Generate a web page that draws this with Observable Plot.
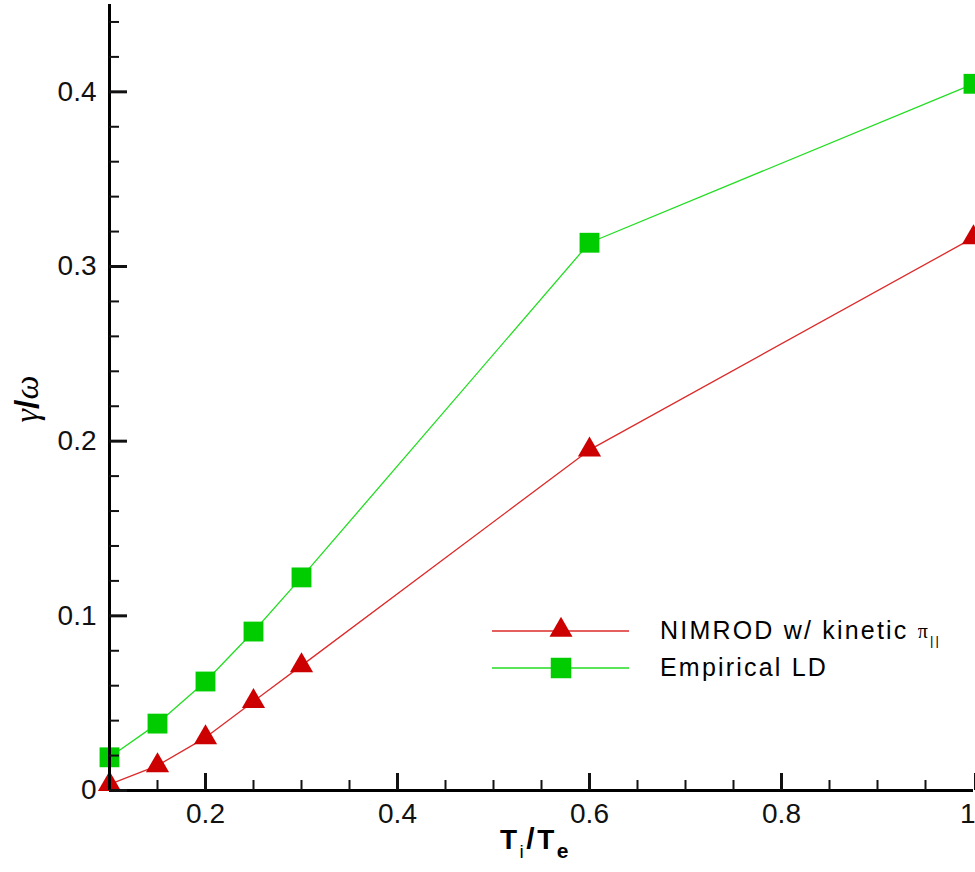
<!DOCTYPE html>
<html>
<head>
<meta charset="utf-8">
<script src="https://cdn.jsdelivr.net/npm/d3@7"></script>
<script src="https://cdn.jsdelivr.net/npm/@observablehq/plot@0.6"></script>
<style>
  html, body { margin: 0; padding: 0; background: #fff; overflow: hidden; }
  #chart { position: relative; width: 975px; height: 872px; }
  #chart svg { display: block; }
</style>
</head>
<body>
<div id="chart"></div>
<script>
// ---- data ----
const tiTe      = [0.1, 0.15, 0.2, 0.25, 0.3, 0.6, 1.0];
const nimrod    = [0.0035, 0.0143, 0.0303, 0.051, 0.0715, 0.195, 0.3165];
const empirical = [0.019, 0.0383, 0.0624, 0.091, 0.122, 0.3136, 0.4046];

const seriesNames = ["NIMROD w/ kinetic π∥", "Empirical LD"];

const xMajorTicks = [0.2, 0.4, 0.6, 0.8];
const xEndTick = [1];
const xMinorTicks = [0.15, 0.25, 0.3, 0.35, 0.45, 0.5, 0.55, 0.65, 0.7, 0.75, 0.85, 0.9, 0.95];
const yMajorTicks = [0, 0.1, 0.2, 0.3, 0.4];
const yMinorTicks = [0.02, 0.04, 0.06, 0.08, 0.12, 0.14, 0.16, 0.18, 0.22, 0.24, 0.26, 0.28,
                     0.32, 0.34, 0.36, 0.38, 0.42, 0.44];

// ---- styles ----
const redFill = "#cc0000", redLine = "#dd2a2a";
const greenFill = "#00cc00", greenLine = "#22dd22";

const rowsN = tiTe.map((x, i) => ({x, y: nimrod[i]}));
const rowsE = tiTe.map((x, i) => ({x, y: empirical[i]}));

const plot = Plot.plot({
  width: 975,
  height: 872,
  marginLeft: 109,
  marginRight: 2,
  marginTop: 4,
  marginBottom: 82,
  style: {fontFamily: "'Liberation Sans', Arial, sans-serif", fontSize: "28px", color: "#111", background: "#fff"},
  x: {domain: [0.1, 1]},
  y: {domain: [0, 0.45]},
  marks: [
    Plot.line(rowsE, {x: "x", y: "y", stroke: greenLine, strokeWidth: 1.3}),
    Plot.line(rowsN, {x: "x", y: "y", stroke: redLine, strokeWidth: 1.3}),
    Plot.dot(rowsE, {x: "x", y: "y", symbol: "square", r: 11.2, fill: greenFill, stroke: null}),
    Plot.dot(rowsN, {x: "x", y: "y", symbol: "triangle", r: 8.6, fill: redFill, stroke: null}),
    Plot.ruleX([0.1], {stroke: "#000", strokeWidth: 3}),
    Plot.ruleY([0], {stroke: "#000", strokeWidth: 3}),
    Plot.axisX({ticks: xMinorTicks, tickSize: -10, strokeWidth: 2, tickFormat: () => "", label: null}),
    Plot.axisX({ticks: xMajorTicks, tickSize: -17, strokeWidth: 3, tickPadding: 30,
                tickFormat: d => String(d), label: null, fontSize: 28}),
    Plot.axisX({ticks: xEndTick, tickSize: -17, strokeWidth: 3, tickPadding: 30,
                tickFormat: d => String(d), label: null, fontSize: 28, textAnchor: "end", dx: 2}),
    Plot.axisY({ticks: yMinorTicks, tickSize: -10, strokeWidth: 2, tickFormat: () => "", label: null}),
    Plot.axisY({ticks: yMajorTicks, tickSize: -18, strokeWidth: 3, tickPadding: 31,
                tickFormat: d => String(d), label: null, fontSize: 28})
  ]
});

document.getElementById("chart").appendChild(plot);

// ---- axis titles and legend, added to the same SVG ----
const svg = d3.select(plot);

// x title: T_i / T_e
const xt = svg.append("text")
  .attr("x", 500).attr("y", 849)
  .attr("text-anchor", "start")
  .attr("font-family", "'Liberation Sans', Arial, sans-serif")
  .attr("font-weight", "bold").attr("font-size", 27).attr("letter-spacing", "2.5px").attr("fill", "#000");
xt.append("tspan").attr("font-size", 28).text("T");
xt.append("tspan").attr("font-size", 19).attr("font-weight", "normal").attr("dy", 9).text("i");
xt.append("tspan").attr("dy", -9).attr("font-size", 30).text("/");
xt.append("tspan").attr("font-size", 28).text("T");
xt.append("tspan").attr("font-size", 21).attr("dy", 9).text("e");

// y title: γ/ω
const yt = svg.append("text")
  .attr("transform", "translate(38,399) rotate(-90)")
  .attr("text-anchor", "middle")
  .attr("font-family", "'Liberation Serif', 'DejaVu Serif', serif")
  .attr("font-size", 34).attr("fill", "#000");
yt.append("tspan").attr("font-style", "italic").text("γ");
yt.append("tspan").attr("font-family", "'Liberation Sans', Arial, sans-serif").attr("font-weight", "bold").text("/");
yt.append("tspan").attr("font-style", "italic").text("ω");

// legend
const legend = svg.append("g").attr("transform", "translate(492,0)");
const legendItems = [
  {name: seriesNames[0], line: redLine, fill: redFill, symbol: d3.symbolTriangle, size: 229, y: 631},
  {name: seriesNames[1], line: greenLine, fill: greenFill, symbol: d3.symbolSquare, size: 420, y: 668}
];
legendItems.forEach((it, i) => {
  const g = legend.append("g").attr("transform", `translate(0,${it.y})`);
  g.append("line").attr("x1", 0).attr("x2", 137).attr("y1", 0).attr("y2", 0)
    .attr("stroke", it.line).attr("stroke-width", 1.3);
  g.append("path").attr("d", d3.symbol(it.symbol, it.size)())
    .attr("transform", `translate(69,${i === 0 ? -1 : 0})`).attr("fill", it.fill);
  const t = g.append("text").attr("x", 168).attr("y", 8)
    .attr("text-anchor", "start")
    .attr("font-family", "'Liberation Sans', Arial, sans-serif")
    .attr("font-size", 25).attr("letter-spacing", "2.2px").attr("fill", "#000");
  if (i === 0) {
    t.append("tspan").text("NIMROD w/ kinetic ");
    t.append("tspan").attr("font-family", "'Liberation Serif', serif").attr("font-size", 20).attr("dy", -1).text("π");
    t.append("tspan").attr("font-size", 13).attr("dy", 7).text("||");
  } else {
    t.text(it.name);
  }
});
</script>
</body>
</html>
